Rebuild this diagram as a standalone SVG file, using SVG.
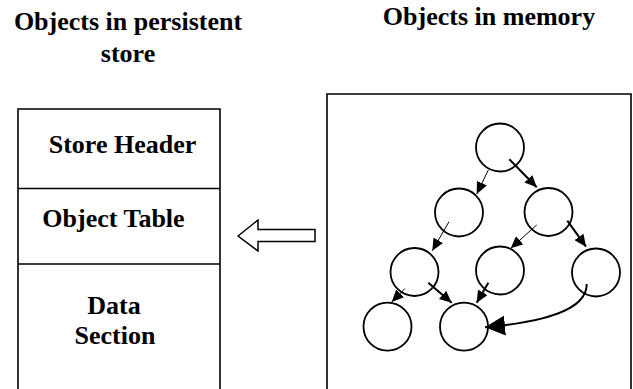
<svg xmlns="http://www.w3.org/2000/svg" width="633" height="389" viewBox="0 0 633 389">
<style>
text{font-family:"Liberation Serif","Times New Roman",serif;font-weight:bold;font-size:26px;fill:#000;text-anchor:middle}
.box{fill:none;stroke:#000;stroke-width:1.6}
.node{fill:#fff;stroke:#000;stroke-width:1.8}
.thin{fill:none;stroke:#000;stroke-width:1}
.thick{fill:none;stroke:#000;stroke-width:2}
</style>
<defs>
<marker id="ah" markerUnits="userSpaceOnUse" markerWidth="12" markerHeight="11" refX="12" refY="5.5" orient="auto">
<path d="M0,0 L12,5.5 L0,11 Z" fill="#000"/>
</marker>
<marker id="ahBig" markerUnits="userSpaceOnUse" markerWidth="20" markerHeight="20" refX="20" refY="10" orient="auto">
<path d="M0,0 L20,10 L0,20 Z" fill="#000"/>
</marker>
</defs>
<rect width="633" height="389" fill="#fff"/>
<g id="titles">
<text x="128" y="30">Objects in persistent</text>
<text x="128" y="62">store</text>
<text x="489" y="25">Objects in memory</text>
</g>
<g id="store">
<path class="box" d="M18,392 V109 H220 V392"/>
<line class="box" x1="18" y1="188.5" x2="220" y2="188.5"/>
<line class="box" x1="18" y1="264" x2="220" y2="264"/>
<g id="store-header"><text x="122.5" y="153">Store Header</text></g>
<g id="object-table"><text x="113.5" y="227">Object Table</text></g>
<g id="data-section"><text x="114" y="313.5">Data</text><text x="115" y="343.5">Section</text></g>
</g>
<g id="transfer-arrow">
<polygon points="238,236 258,220 258,229.5 315,229.5 315,241.5 258,241.5 258,251" fill="#fff" stroke="#000" stroke-width="1.5"/>
</g>
<g id="memory">
<path class="box" d="M327,392 V94 H631 V392"/>
</g>
<g id="nodes">
<g id="n1"><circle class="node" cx="500" cy="147.5" r="24"/></g>
<g id="n2"><circle class="node" cx="459" cy="212.5" r="24"/></g>
<g id="n3"><circle class="node" cx="548.5" cy="212" r="24"/></g>
<g id="n4"><circle class="node" cx="414.5" cy="272" r="24"/></g>
<g id="n5"><circle class="node" cx="500" cy="270.5" r="24"/></g>
<g id="n6"><circle class="node" cx="596" cy="272.5" r="24"/></g>
<g id="n7"><circle class="node" cx="387.5" cy="326.7" r="24"/></g>
<g id="n8"><circle class="node" cx="464" cy="326.7" r="24"/></g>
</g>
<g id="connectors">
<line class="thin" x1="488.3" y1="170" x2="476.7" y2="194" marker-end="url(#ah)"/>
<line class="thick" x1="509.3" y1="159.3" x2="536.7" y2="187.3" marker-end="url(#ah)"/>
<line class="thin" x1="449" y1="221.7" x2="432.3" y2="250.7" marker-end="url(#ah)"/>
<line class="thin" x1="536.7" y1="225" x2="510.7" y2="248.3" marker-end="url(#ah)"/>
<line class="thick" x1="567.3" y1="220.7" x2="586" y2="246.7" marker-end="url(#ah)"/>
<line class="thin" x1="405" y1="288.5" x2="391.7" y2="302" marker-end="url(#ah)"/>
<line class="thick" x1="428.3" y1="282.7" x2="451.7" y2="302.7" marker-end="url(#ah)"/>
<line class="thick" x1="488.3" y1="282.7" x2="476.7" y2="302.7" marker-end="url(#ah)"/>
<path class="thick" d="M586.7,284 C587,310 545,322 485,327.3" marker-end="url(#ahBig)"/>
</g>
</svg>
